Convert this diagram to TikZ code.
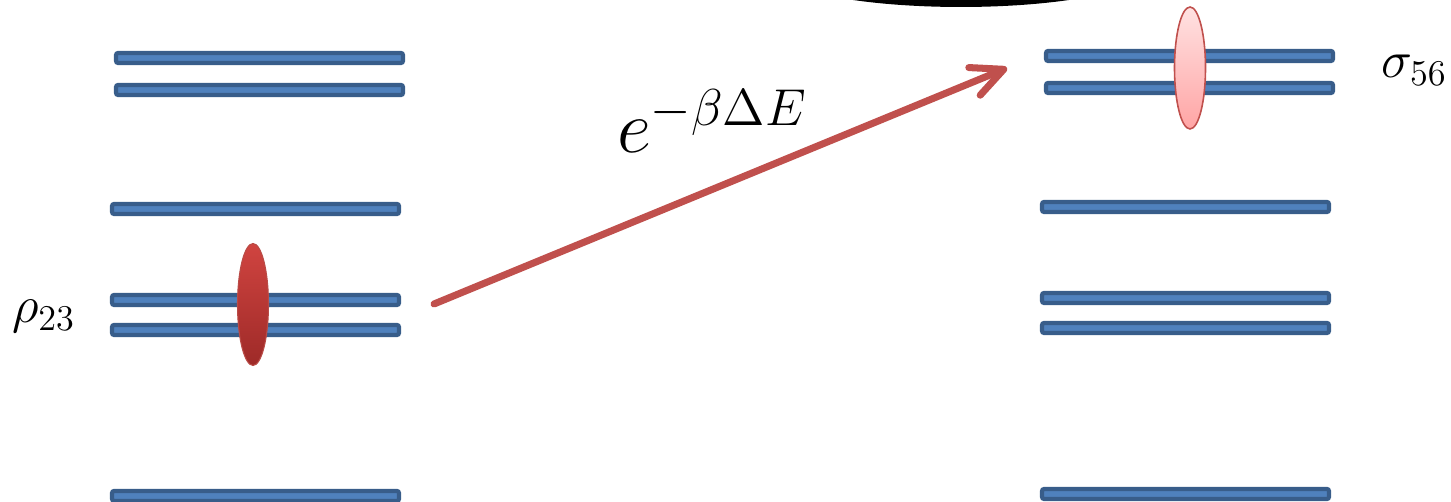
\documentclass[tikz,border=0pt]{standalone}
\usetikzlibrary{shapes.geometric,arrows.meta}

\definecolor{barfill}{HTML}{4F81BD}
\definecolor{bardraw}{HTML}{385D8A}
\definecolor{arrowred}{HTML}{C0504D}
\definecolor{ellatop}{RGB}{208,68,64}
\definecolor{ellabot}{RGB}{158,42,40}
\definecolor{ellaborder}{RGB}{185,75,70}
\definecolor{ellbtop}{RGB}{255,226,226}
\definecolor{ellbbot}{RGB}{255,165,165}

\begin{document}
\begin{tikzpicture}[x=0.02cm,y=-0.02cm,
  level/.style={rectangle, rounded corners=1.2pt, fill=barfill, draw=bardraw,
    line width=2.4pt, minimum width=5.74cm, minimum height=0.2cm,
    inner sep=0pt, outer sep=0pt},
  pop/.style={ellipse, minimum width=0.62cm, minimum height=2.44cm,
    inner sep=0pt, outer sep=0pt},
  popA/.style={pop, top color=ellatop, bottom color=ellabot, draw=ellaborder, line width=0.6pt},
  popB/.style={pop, top color=ellbtop, bottom color=ellbbot, draw=arrowred, line width=0.9pt},
  lbl/.style={anchor=base west, inner sep=0pt, outer sep=0pt},
  trans/.style={draw=arrowred, line width=4pt, line cap=round,
    -{Straight Barb[length=18pt, width=17pt, round]}}
]
\clip (0,0) rectangle (1451,502);

% black shape cut by the top edge
\fill[black] (961,-33) ellipse [x radius=3.82cm, y radius=0.8cm];

% left levels
\node[level] (L1) at (259.5,58) {};
\node[level] (L2) at (259.5,90) {};
\node[level] (L3) at (255.5,209) {};
\node[level] (L4) at (255.5,300) {};
\node[level] (L5) at (255.5,330) {};
\node[level] (L6) at (255.5,496) {};

% right levels
\node[level] (R1) at (1189.5,56) {};
\node[level] (R2) at (1189.5,88) {};
\node[level] (R3) at (1185.5,207) {};
\node[level] (R4) at (1185.5,298) {};
\node[level] (R5) at (1185.5,328) {};
\node[level] (R6) at (1185.5,494) {};

% populations
\node[popA] (rhoPop) at (253,304.5) {};
\node[popB] (sigPop) at (1190,68) {};

% labels
\node[lbl, scale=1.72] (rho) at (12,323) {\fontsize{17.28}{20}\selectfont$\rho_{23}$};
\node[lbl, scale=1.72] (sig) at (1381,78) {\fontsize{17.28}{20}\selectfont$\sigma_{56}$};
\node[lbl, scale=2.05] (boltz) at (617,153) {\fontsize{20.74}{24}\selectfont$e^{\hbox{\fontsize{14.4}{17}\selectfont$-\beta\Delta E$}}$};

% transition arrow
\coordinate (src) at (434,304);
\coordinate (dst) at (1007,68);
\draw[trans] (src) -- (dst);
\end{tikzpicture}
\end{document}
